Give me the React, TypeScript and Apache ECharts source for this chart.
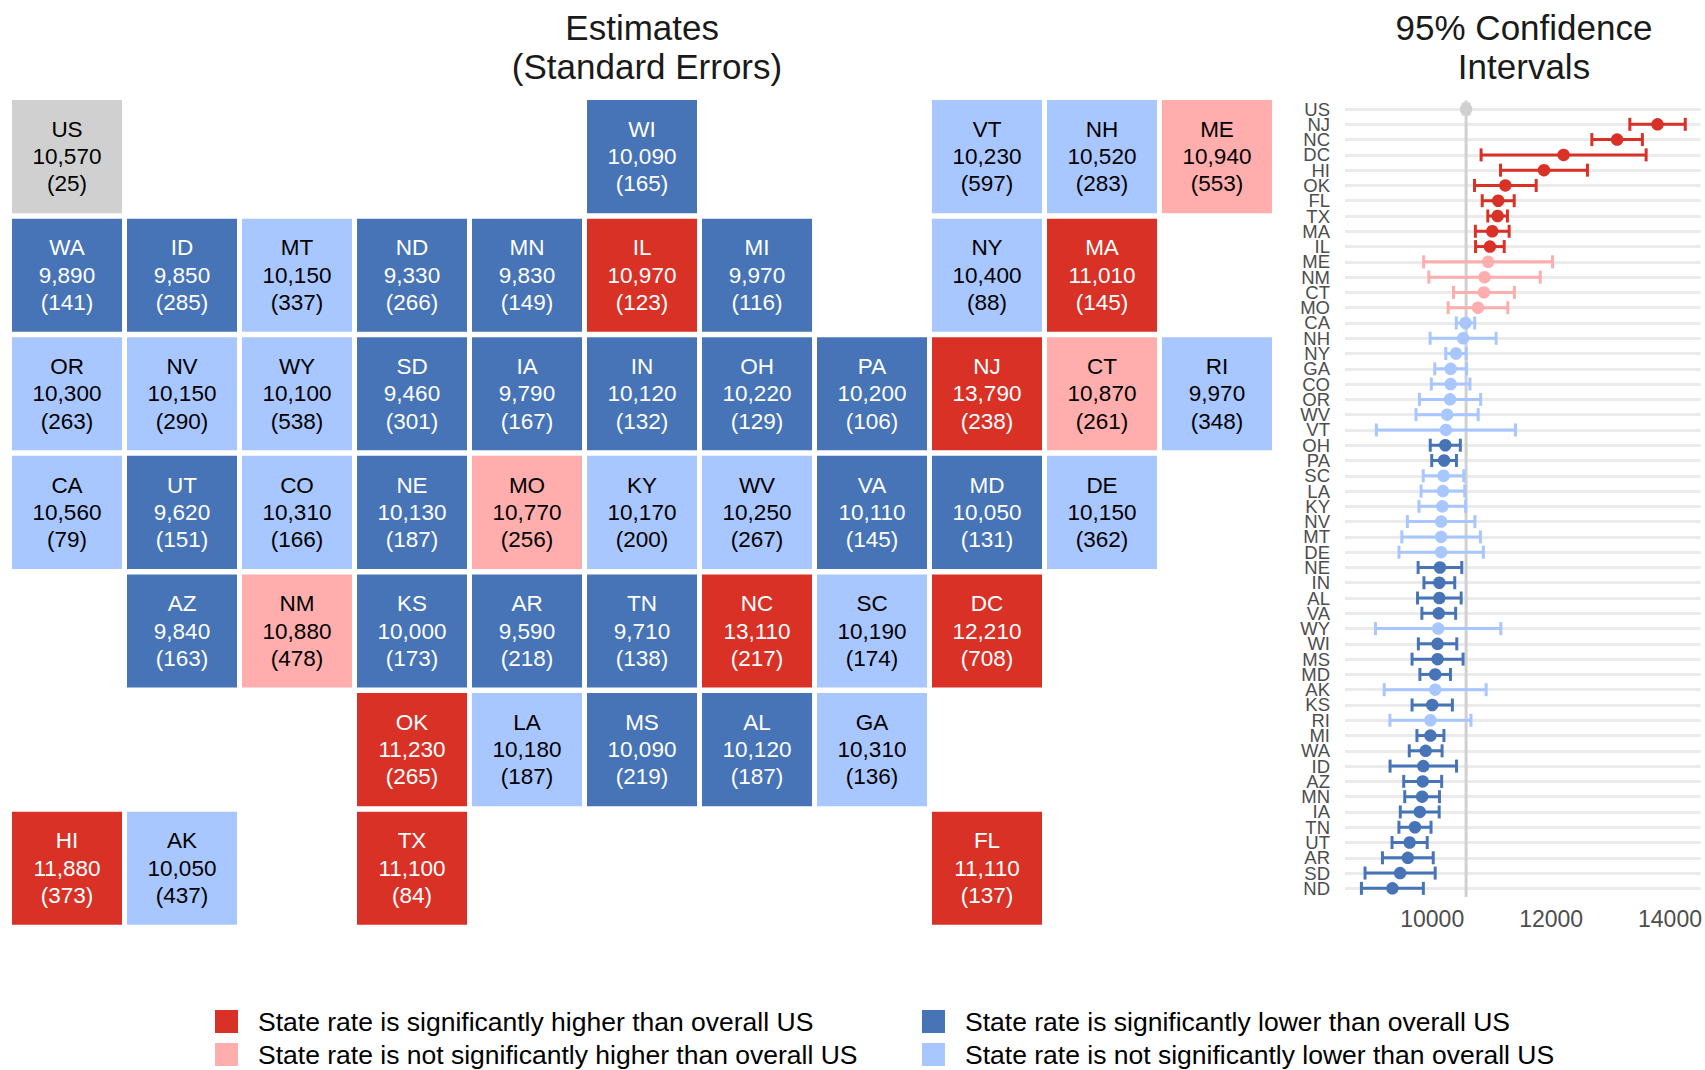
import React, { useEffect, useRef } from "react";
import * as echarts from "echarts";

const stateCodes = ["US","NJ","NC","DC","HI","OK","FL","TX","MA","IL","ME","NM","CT","MO","CA","NH","NY","GA","CO","OR","WV","VT","OH","PA","SC","LA","KY","NV","MT","DE","NE","IN","AL","VA","WY","WI","MS","MD","AK","KS","RI","MI","WA","ID","AZ","MN","IA","TN","UT","AR","SD","ND"];
const estimates = [10570,13790,13110,12210,11880,11230,11110,11100,11010,10970,10940,10880,10870,10770,10560,10520,10400,10310,10310,10300,10250,10230,10220,10200,10190,10180,10170,10150,10150,10150,10130,10120,10120,10110,10100,10090,10090,10050,10050,10000,9970,9970,9890,9850,9840,9830,9790,9710,9620,9590,9460,9330];
const standardErrors = [25,238,217,708,373,265,137,84,145,123,553,478,261,256,79,283,88,136,166,263,267,597,129,106,174,187,200,290,337,362,187,132,187,145,538,165,219,131,437,173,348,116,141,285,163,149,167,138,151,218,301,266];
const ciLow = [10521,13324,12685,10822,11149,10711,10841,10935,10726,10729,9856,9943,10358,10268,10405,9965,10228,10043,9985,9785,9727,9060,9967,9992,9849,9813,9778,9582,9489,9440,9763,9861,9753,9826,9046,9767,9661,9793,9193,9661,9288,9743,9614,9291,9521,9538,9463,9440,9324,9163,8870,8809];
const ciHigh = [10619,14256,13535,13598,12611,11749,11379,11265,11294,11211,12024,11817,11382,11272,10715,11075,10572,10577,10635,10815,10773,11400,10473,10408,10531,10547,10562,10718,10811,10860,10497,10379,10487,10394,11154,10413,10519,10307,10907,10339,10652,10197,10166,10409,10159,10122,10117,9980,9916,10017,10050,9851];

const sigHigher = ["NJ","NC","DC","HI","OK","FL","TX","MA","IL"];
const notSigHigher = ["ME","NM","CT","MO"];
const sigLower = ["OH","PA","NE","IN","AL","VA","WI","MS","MD","KS","MI","WA","ID","AZ","MN","IA","TN","UT","AR","SD","ND"];
const notSigLower = ["CA","NH","NY","GA","CO","OR","WV","VT","SC","LA","KY","NV","MT","DE","WY","AK","RI"];
const overall = ["US"];

// Tile-map arrangement: one entry per row, one slot per column.
const tileRows = [
  ["US","","","","","WI","","","VT","NH","ME"],
  ["WA","ID","MT","ND","MN","IL","MI","","NY","MA",""],
  ["OR","NV","WY","SD","IA","IN","OH","PA","NJ","CT","RI"],
  ["CA","UT","CO","NE","MO","KY","WV","VA","MD","DE",""],
  ["","AZ","NM","KS","AR","TN","NC","SC","DC","",""],
  ["","","","OK","LA","MS","AL","GA","","",""],
  ["HI","AK","","TX","","","","","FL","",""],
];

const xTicks = [10000, 12000, 14000];
const legendHigher = ["State rate is significantly higher than overall US", "State rate is not significantly higher than overall US"];
const legendLower = ["State rate is significantly lower than overall US", "State rate is not significantly lower than overall US"];

const FONT = "Liberation Sans";
const RED = "#D93126";
const PINK = "#FFADAD";
const BLUE = "#4674B7";
const SKY = "#A8C6FF";
const GREY = "#D0D0D0";

const groups = [
  { name: legendHigher[0], codes: sigHigher, color: RED, text: "#FFFFFF" },
  { name: legendHigher[1], codes: notSigHigher, color: PINK, text: "#000000" },
  { name: legendLower[0], codes: sigLower, color: BLUE, text: "#FFFFFF" },
  { name: legendLower[1], codes: notSigLower, color: SKY, text: "#000000" },
  { name: "Overall US", codes: overall, color: GREY, text: "#000000" },
];

const colorOf = (code: string) => groups.find((g) => g.codes.includes(code))!.color;
const fmt = (n: number) => n.toLocaleString("en-US");

function tileData(codes: string[]) {
  const out: any[] = [];
  tileRows.forEach((row, r) =>
    row.forEach((code, c) => {
      if (codes.includes(code)) {
        const i = stateCodes.indexOf(code);
        out.push({ name: code, value: [c, r, estimates[i], standardErrors[i]] });
      }
    })
  );
  return out;
}

export default function App() {
  const ref = useRef<HTMLDivElement>(null);
  useEffect(() => {
    const chart = echarts.init(ref.current!, null, { renderer: "svg" });
    const legendBase = {
      orient: "vertical",
      selectedMode: false,
      padding: 0,
      itemWidth: 23,
      itemHeight: 23,
      itemGap: 6,
      icon: "rect",
      top: 1008,
      textStyle: { fontFamily: FONT, fontSize: 26.5, color: "#000", padding: [0, 0, 0, 15] },
    };
    const titleStyle = { fontFamily: FONT, fontSize: 35, fontWeight: "normal", color: "#1a1a1a", lineHeight: 39 };
    chart.setOption({
      animation: false,
      backgroundColor: "#fff",
      textStyle: { fontFamily: FONT },
      title: [
        { text: "Estimates \n(Standard Errors)", left: 642, top: 2.5, textAlign: "center", textStyle: titleStyle },
        { text: "95% Confidence\nIntervals", left: 1519, top: 2.5, textAlign: "center", textStyle: titleStyle },
      ],
      legend: [
        { ...legendBase, left: 215, data: legendHigher },
        { ...legendBase, left: 922, data: legendLower },
      ],
      grid: [
        { left: 9.5, top: 97.3, width: 1265, height: 830.2 },
        { left: 1345, top: 101.4, width: 359, height: 794.6 },
      ],
      xAxis: [
        {
          gridIndex: 0,
          type: "category",
          show: false,
          data: tileRows[0].map((_, i) => String(i)),
        },
        {
          gridIndex: 1,
          type: "value",
          min: 8533,
          max: 14517,
          axisLine: { show: false },
          axisTick: { show: false, customValues: xTicks },
          splitLine: { show: false },
          axisLabel: {
            customValues: xTicks,
            fontFamily: FONT,
            fontSize: 23,
            color: "#4D4D4D",
            margin: 11,
            formatter: (v: number) => String(v),
          },
        },
      ],
      yAxis: [
        {
          gridIndex: 0,
          type: "category",
          show: false,
          inverse: true,
          data: tileRows.map((_, i) => String(i)),
        },
        {
          gridIndex: 1,
          type: "category",
          inverse: true,
          data: stateCodes,
          axisLine: { show: false },
          axisTick: { show: false },
          splitLine: { show: true, alignWithLabel: true, lineStyle: { color: "#EBEBEB", width: 3 } },
          axisLabel: { interval: 0, fontFamily: FONT, fontSize: 18.5, color: "#4D4D4D", margin: 15, padding: [2, 0, 0, 0] },
        },
      ],
      series: [
        ...groups.map((g) => {
          const tiles = tileData(g.codes);
          return {
            type: "custom",
            name: g.name,
            xAxisIndex: 0,
            yAxisIndex: 0,
            clip: false,
            itemStyle: { color: g.color },
            data: tiles,
            renderItem: (params: any, api: any) => {
              const p = api.coord([api.value(0), api.value(1)]);
              const size = api.size([1, 1]);
              const w = size[0] - 5;
              const h = size[1] - 5.5;
              const t = tiles[params.dataIndex];
              return {
                type: "group",
                children: [
                  {
                    type: "rect",
                    shape: { x: p[0] - w / 2, y: p[1] - h / 2, width: w, height: h },
                    style: { fill: g.color },
                  },
                  {
                    type: "text",
                    x: p[0],
                    y: p[1],
                    style: {
                      text: `${t.name}\n${fmt(api.value(2))}\n(${api.value(3)})`,
                      align: "center",
                      verticalAlign: "middle",
                      fontFamily: FONT,
                      fontSize: 22.5,
                      lineHeight: 27.3,
                      fill: g.text,
                    },
                  },
                ],
              };
            },
          };
        }),
        {
          type: "custom",
          name: "US estimate",
          xAxisIndex: 1,
          yAxisIndex: 1,
          z: 2,
          clip: false,
          silent: true,
          data: [[estimates[0], 0]],
          renderItem: (params: any, api: any) => {
            const p = api.coord([api.value(0), api.value(1)]);
            return {
              type: "line",
              shape: { x1: p[0], y1: params.coordSys.y - 1, x2: p[0], y2: params.coordSys.y + params.coordSys.height + 1 },
              style: { stroke: GREY, lineWidth: 3, fill: "none" },
            };
          },
        },
        {
          type: "custom",
          name: "Confidence intervals",
          xAxisIndex: 1,
          yAxisIndex: 1,
          z: 3,
          clip: false,
          data: stateCodes.map((_, i) => [ciLow[i], i, ciHigh[i]]),
          renderItem: (params: any, api: any) => {
            const a = api.coord([api.value(0), api.value(1)]);
            const b = api.coord([api.value(2), api.value(1)]);
            const style = { stroke: colorOf(stateCodes[params.dataIndex]), lineWidth: 3, fill: "none" };
            const cap = 6.5;
            return {
              type: "group",
              children: [
                { type: "line", shape: { x1: a[0], y1: a[1], x2: b[0], y2: b[1] }, style },
                { type: "line", shape: { x1: a[0], y1: a[1] - cap, x2: a[0], y2: a[1] + cap }, style },
                { type: "line", shape: { x1: b[0], y1: b[1] - cap, x2: b[0], y2: b[1] + cap }, style },
              ],
            };
          },
        },
        {
          type: "scatter",
          name: "Estimates",
          xAxisIndex: 1,
          yAxisIndex: 1,
          z: 4,
          symbolSize: 12.5,
          data: stateCodes.map((code, i) => ({
            value: [estimates[i], i],
            itemStyle: { color: colorOf(code), opacity: 1 },
          })),
        },
      ],
    });
    return () => chart.dispose();
  }, []);
  return <div ref={ref} style={{ position: "absolute", left: 0, top: 0, width: 1705, height: 1070 }} />;
}
